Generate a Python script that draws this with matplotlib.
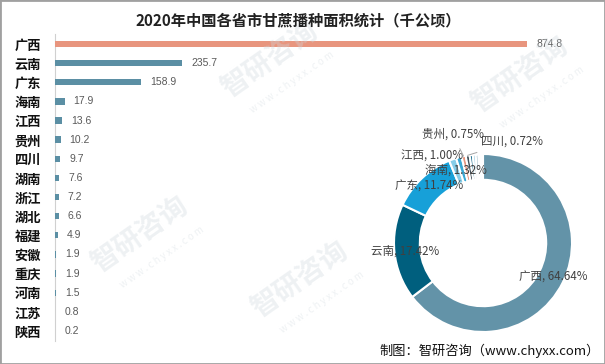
import numpy as np
import matplotlib
matplotlib.use('Agg')
import matplotlib.pyplot as plt
from matplotlib.patches import Rectangle

plt.rcParams['font.family'] = ['Noto Sans CJK SC', 'DejaVu Sans']

# ---------------------------------------------------------------------------
# Data
# ---------------------------------------------------------------------------
provinces = ['广西', '云南', '广东', '海南', '江西', '贵州', '四川', '湖南',
             '浙江', '湖北', '福建', '安徽', '重庆', '河南', '江苏', '陕西']
area = [874.8, 235.7, 158.9, 17.9, 13.6, 10.2, 9.7, 7.6,
        7.2, 6.6, 4.9, 1.9, 1.9, 1.5, 0.8, 0.2]

title = '2020年中国各省市甘蔗播种面积统计（千公顷）'
source = '制图：智研咨询（www.chyxx.com）'

bar_main = '#e8957e'
bar_other = '#5b8fa4'
pie_colors = ['#6393a8', '#005f7e', '#17a0d8', '#86cde8', '#3aa8d4',
              '#e8957e', '#404f58', '#1d6f8e', '#a9d3e4', '#5b8fa4',
              '#2f87b0', '#c7e3ee', '#7aaabd', '#0b4d66', '#9ec2cf', '#dfeff5']

W, H = 605, 364
fig = plt.figure(figsize=(W / 100, H / 100), dpi=100)
fig.patch.set_facecolor('white')

# ---------------------------------------------------------------------------
# Bar chart
# ---------------------------------------------------------------------------
row_h = 19.13
top_px, left_px = 44 - row_h / 2, 55
n = len(provinces)
ax = fig.add_axes([left_px / W, 1 - (top_px + n * row_h) / H,
                   540 / W, n * row_h / H])
y = np.arange(n)
colors = [bar_main] + [bar_other] * (n - 1)
ax.barh(y, area, height=0.33, color=colors, zorder=3)
ax.set_ylim(n - 0.5, -0.5)
ax.set_xlim(0, 1000)
ax.set_yticks(y)
ax.set_yticklabels(provinces, fontsize=9.5, fontweight='bold', color='#111111')
ax.tick_params(axis='y', length=0, pad=10)
ax.set_xticks([])
for s in ['top', 'right', 'bottom']:
    ax.spines[s].set_visible(False)
ax.spines['left'].set_color('#d0d0d0')
ax.patch.set_alpha(0)
for i, v in enumerate(area):
    ax.annotate(f'{v:.1f}', xy=(v, i), xytext=(6.5, 0), textcoords='offset points',
                va='center', ha='left', fontsize=7.5, color='#595959',
                family=['Liberation Sans', 'DejaVu Sans'])

# ---------------------------------------------------------------------------
# Donut chart
# ---------------------------------------------------------------------------
cx, cy, R = 483, 243, 89
pax = fig.add_axes([(cx - R) / W, (H - cy - R) / H, 2 * R / W, 2 * R / H])
pax.pie(area, colors=pie_colors, startangle=90, counterclock=False, radius=1,
        wedgeprops=dict(width=0.29, edgecolor='white', linewidth=1.5))
pax.set_xlim(-1, 1)
pax.set_ylim(-1, 1)
pax.set_axis_off()

total = sum(area)
frac = np.array(area) / total
cum = np.cumsum(frac) - frac / 2
mid_ang = np.deg2rad(90 - cum * 360)

label_kw = dict(fontsize=8.3, color='#404040')
# large slices: label inside the ring
for i in range(3):
    pax.text(0.875 * np.cos(mid_ang[i]), 0.875 * np.sin(mid_ang[i]),
             f'{provinces[i]}, {frac[i] * 100:.2f}%', ha='center', va='center',
             **label_kw)
# small slices: fixed label spots, leader lines for the tiny ones
small_pos = {3: (-0.30, 0.82), 4: (-0.57, 0.98), 5: (-0.34, 1.22), 6: (0.33, 1.14)}
for i, (tx, ty) in small_pos.items():
    txt = f'{provinces[i]}, {frac[i] * 100:.2f}%'
    if i in (5, 6):
        pax.annotate(txt, xy=(np.cos(mid_ang[i]), np.sin(mid_ang[i])),
                     xytext=(tx, ty), ha='center', va='center',
                     arrowprops=dict(arrowstyle='-', color='#a6a6a6', lw=0.7,
                                     shrinkA=4, shrinkB=0),
                     annotation_clip=False, **label_kw)
    else:
        pax.text(tx, ty, txt, ha='center', va='center', **label_kw)

# ---------------------------------------------------------------------------
# Title, source, watermarks, frame
# ---------------------------------------------------------------------------
fig.text(298 / W, 1 - 20 / H, title, ha='center', va='center',
         fontsize=11, fontweight='bold', color='#222222')
fig.text(600 / W, 1 - 351 / H, source, ha='right', va='center',
         fontsize=9.5, color='#111111')

# faint watermarks, kept clear of the frame
for wx, wy in [(270, 60), (520, 75), (140, 235), (300, 280)]:
    fig.text(wx / W, 1 - wy / H, '智研咨询', rotation=35, ha='center', va='center',
             fontsize=20, fontweight='bold', color='#cfd8de', alpha=0.35, zorder=0)
    fig.text((wx + 22) / W, 1 - (wy + 22) / H, 'w w w . c h y x x . c o m',
             rotation=35, ha='center', va='center', fontsize=7,
             color='#cfd8de', alpha=0.35, zorder=0)

fig.patches.append(Rectangle((0, 0), 1, 1, transform=fig.transFigure, fill=False,
                             edgecolor='#a0a0a0', linewidth=2))

fig.savefig('out.png', dpi=100)
